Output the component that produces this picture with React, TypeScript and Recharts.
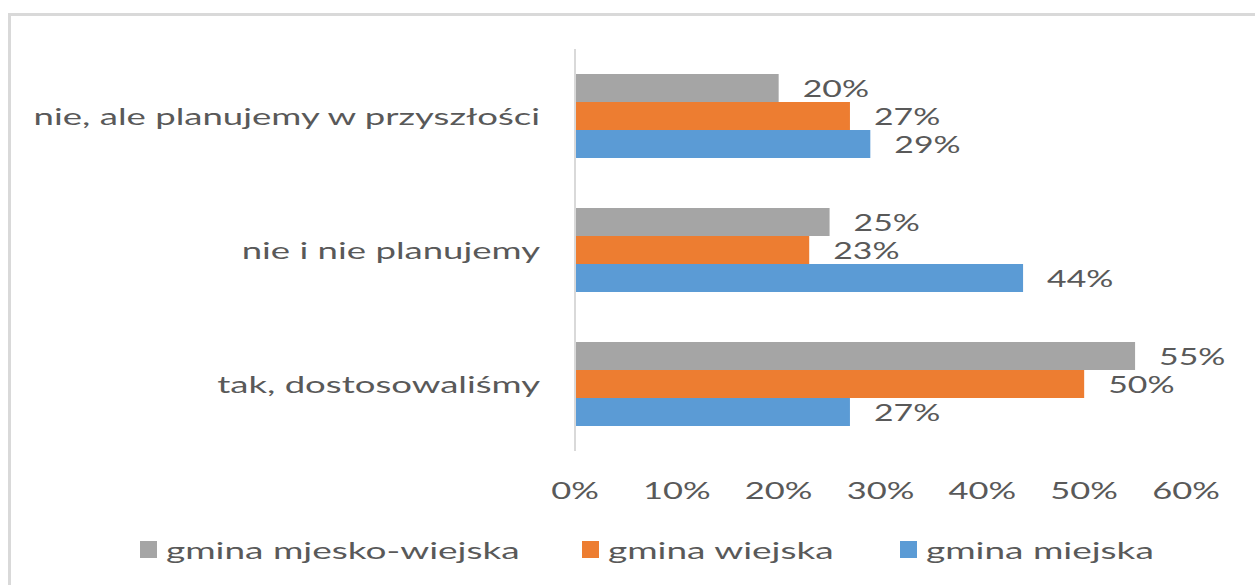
import { BarChart, Bar, XAxis, YAxis, Legend, LabelList } from "recharts";

const categories = [
  "nie, ale planujemy w przyszłości",
  "nie i nie planujemy",
  "tak, dostosowaliśmy",
];
const seriesNames = ["gmina mjesko-wiejska", "gmina wiejska", "gmina miejska"];
const mjeskoWiejska = [20, 25, 55];
const wiejska = [27, 23, 50];
const miejska = [29, 44, 27];
const xTicks = [0, 10, 20, 30, 40, 50, 60];

const FONT = "Lato, 'Open Sans', sans-serif";
const TEXT = "#595959";

const series = [
  { key: "mw", name: seriesNames[0], color: "#A5A5A5", width: 442 },
  { key: "w", name: seriesNames[1], color: "#ED7D31", width: 318 },
  { key: "m", name: seriesNames[2], color: "#5B9BD5", width: 300 },
];

const data = categories.map((name, i) => ({
  name,
  mw: mjeskoWiejska[i],
  w: wiejska[i],
  m: miejska[i],
}));

function YTick(props: any) {
  const { x, y, payload } = props;
  return (
    <g transform={`translate(${x - 35},${y})`}>
      <text
        transform="scale(1.59,1)"
        textAnchor="end"
        dominantBaseline="central"
        fill={TEXT}
        fontSize={23}
        fontFamily={FONT}
      >
        {payload.value}
      </text>
    </g>
  );
}

function XTick(props: any) {
  const { x, y, payload } = props;
  return (
    <g transform={`translate(${x},${y + 39})`}>
      <text
        transform="scale(1.5,1)"
        textAnchor="middle"
        dominantBaseline="central"
        fill={TEXT}
        fontSize={23}
        fontFamily={FONT}
      >
        {payload.value}%
      </text>
    </g>
  );
}

function ValueLabel(props: any) {
  const { x, y, width, height, value } = props;
  return (
    <g transform={`translate(${x + width + 24},${y + height / 2})`}>
      <text
        transform="scale(1.47,1)"
        dominantBaseline="central"
        fill={TEXT}
        fontSize={23}
        fontFamily={FONT}
      >
        {value}%
      </text>
    </g>
  );
}

function LegendBox() {
  return (
    <div style={{ display: "flex", alignItems: "center" }}>
      {series.map((s) => (
        <div key={s.key} style={{ width: s.width, display: "flex", alignItems: "center" }}>
          <span style={{ width: 17, height: 17, background: s.color, marginRight: 9 }} />
          <span
            style={{
              display: "inline-block",
              transform: "scaleX(1.54)",
              transformOrigin: "left center",
              fontFamily: FONT,
              fontSize: 24,
              color: TEXT,
              whiteSpace: "nowrap",
            }}
          >
            {s.name}
          </span>
        </div>
      ))}
    </div>
  );
}

export default function App() {
  return (
    <div style={{ position: "fixed", left: 0, top: 0, width: 1255, height: 585, background: "#fff", overflow: "hidden" }}>
      <div
        style={{
          position: "absolute",
          left: 8,
          top: 13,
          width: 1280,
          height: 620,
          border: "3px solid #d9d9d9",
        }}
      />
      <div style={{ position: "absolute", left: 0, top: 0 }}>
        <BarChart
          width={1255}
          height={585}
          data={data}
          layout="vertical"
          margin={{ top: 49, right: 69, bottom: 74, left: 0 }}
          barCategoryGap={25}
          barGap={0}
        >
          <XAxis
            type="number"
            domain={[0, 60]}
            ticks={xTicks}
            axisLine={false}
            tickLine={false}
            tickSize={0}
            tickMargin={0}
            height={60}
            tick={<XTick />}
          />
          <YAxis
            type="category"
            dataKey="name"
            width={575}
            axisLine={{ stroke: "#d9d9d9", strokeWidth: 2 }}
            tickLine={false}
            tickSize={0}
            tickMargin={0}
            tick={<YTick />}
          />
          <Legend
            verticalAlign="middle"
            align="center"
            wrapperStyle={{ top: 535, left: 140, width: 1100 }}
            content={<LegendBox />}
          />
          {series.map((s) => (
            <Bar key={s.key} dataKey={s.key} name={s.name} fill={s.color} isAnimationActive={false}>
              <LabelList dataKey={s.key} content={<ValueLabel />} />
            </Bar>
          ))}
        </BarChart>
      </div>
    </div>
  );
}
